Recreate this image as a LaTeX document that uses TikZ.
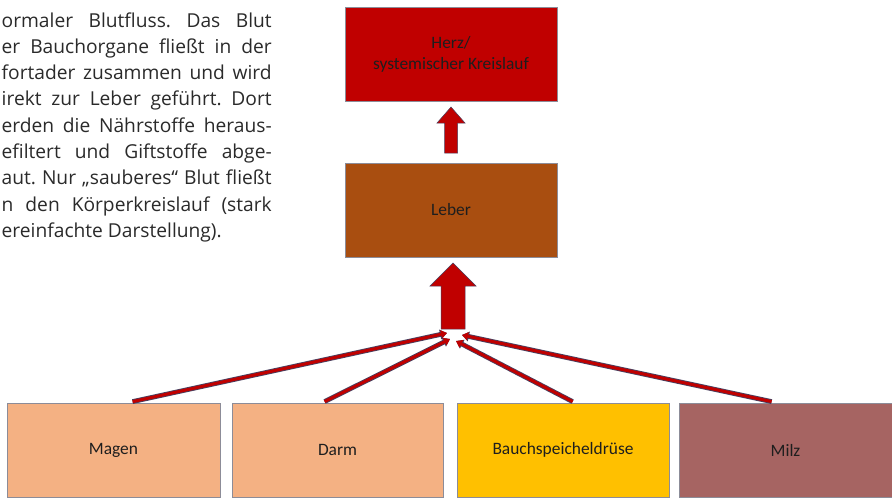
\documentclass[tikz,border=0pt]{standalone}
\usepackage{fontspec}
\setmainfont{Open Sans}
\newfontfamily\boxfont{Carlito}
\usetikzlibrary{arrows.meta}
\definecolor{herzc}{HTML}{C00000}
\definecolor{leberc}{HTML}{A94E10}
\definecolor{peachc}{HTML}{F4B183}
\definecolor{goldc}{HTML}{FFC000}
\definecolor{milzc}{HTML}{A66462}
\definecolor{outlc}{HTML}{4A3F5E}
\definecolor{framec}{HTML}{8C8C98}
\definecolor{paratext}{HTML}{2A2A2A}
\definecolor{boxtext}{HTML}{1E1E1E}
\frenchspacing
\tikzset{
  para/.style={inner sep=0pt, anchor=base west, text=paratext, font=\fontsize{19.2}{23}\selectfont},
  organ/.style={draw=framec, line width=0.8pt, minimum height=94pt, inner sep=0pt, text=boxtext,
    font=\boxfont\fontsize{17.4}{21}\selectfont, align=center},
  blockarrow/.style={fill=herzc, draw=outlc, line width=0.5pt, line join=miter},
  conn/.style={draw=herzc, line width=3pt, -{Triangle[length=6pt,width=8pt]},
    preaction={draw=outlc, line width=4.8pt, -{Triangle[length=7pt,width=9.6pt]}}}
}
\begin{document}
\begin{tikzpicture}[x=1pt,y=-1pt]
\useasboundingbox (0,0) rectangle (892,498);
% paragraph
\node[para] (t1) at (1.5,27) {\makebox[270pt][s]{ormaler Blutfluss. Das Blut}};
\node[para] (t2) at (1.5,53.3) {\makebox[270pt][s]{er Bauchorgane fließt in der}};
\node[para] (t3) at (1.5,79.6) {\makebox[270pt][s]{fortader zusammen und wird}};
\node[para] (t4) at (1.5,105.9) {\makebox[270pt][s]{irekt zur Leber geführt. Dort}};
\node[para] (t5) at (1.5,132.2) {\makebox[270pt][s]{erden die Nährstoffe heraus-}};
\node[para] (t6) at (1.5,158.5) {\makebox[270pt][s]{efiltert und Giftstoffe abge-}};
\node[para] (t7) at (1.5,184.8) {\makebox[270pt][s]{aut. Nur „sauberes“ Blut fließt}};
\node[para] (t8) at (1.5,211.1) {\makebox[270pt][s]{n den Körperkreislauf (stark}};
\node[para] (t9) at (1.5,237.4) {ereinfachte Darstellung).};
% boxes
\node[organ, fill=herzc, minimum width=212pt] (herz) at (451,54) {Herz/\\systemischer Kreislauf};
\node[organ, fill=leberc, minimum width=212pt] (leber) at (451,210) {Leber};
\node[organ, fill=peachc, minimum width=213pt] (magen) at (113.5,450) {Magen};
\node[organ, fill=peachc, minimum width=211pt] (darm) at (337.5,450) {Darm};
\node[organ, fill=goldc, minimum width=212pt] (bauch) at (563,450) {Bauchspeicheldrüse};
\node[organ, fill=milzc, minimum width=213pt] (milz) at (785.5,450) {Milz};
% block arrows
\draw[blockarrow] (451,107) -- (465,123) -- (457.5,123) -- (457.5,153) -- (444.5,153) -- (444.5,123) -- (437,123) -- cycle;
\draw[blockarrow] (453,263) -- (476,286) -- (465,286) -- (465,329) -- (441,329) -- (441,286) -- (430,286) -- cycle;
% connectors
\coordinate (tm) at (447,333);
\coordinate (td) at (450,339);
\coordinate (tb) at (456,341);
\coordinate (tz) at (462,335);
\draw[conn] ([xshift=126pt,yshift=1pt]magen.north west) -- (tm);
\draw[conn] ([xshift=93pt,yshift=1pt]darm.north west) -- (td);
\draw[conn] ([xshift=116pt,yshift=1pt]bauch.north west) -- (tb);
\draw[conn] ([xshift=93pt,yshift=1pt]milz.north west) -- (tz);
\end{tikzpicture}
\end{document}
